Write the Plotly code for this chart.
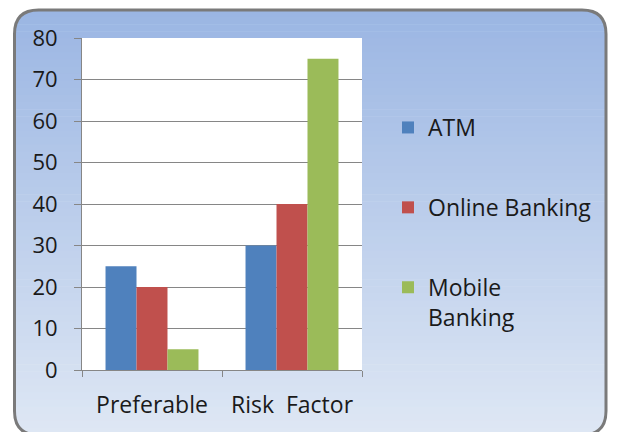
import plotly.graph_objects as go

categories = ["Preferable", "Risk  Factor"]
series_names = ["ATM", "Online Banking", "Mobile<br>Banking"]
atm = [25, 30]
online = [20, 40]
mobile = [5, 75]
colors = ["#4F81BD", "#C0504D", "#9BBB59"]
y_ticks = [0, 10, 20, 30, 40, 50, 60, 70, 80]

# page offset from default body margin
OX, OY = 8, 8
W, H = 617 - OX, 432 - OY
L, R, T, B = 82 - OX, 362 - OX, 38 - OY, 370 - OY


def px(x):
    return (x - OX - L) / (R - L)


def py(y):
    return (B - (y - OY)) / (B - T)


fig = go.Figure()
for name, vals, col in zip(series_names, [atm, online, mobile], colors):
    fig.add_trace(go.Bar(x=categories, y=vals, name=name, marker_color=col,
                         marker_line_width=0, legendgroup=name))

shapes = []
# gradient background bands (page pixel coords)
x0, x1, y0, y1 = 14.5, 606, 10, 435
top_c = (155, 182, 227)
bot_c = (222, 231, 244)
n = 60
for i in range(n):
    t = i / (n - 1)
    c = tuple(int(round(top_c[k] + (bot_c[k] - top_c[k]) * t)) for k in range(3))
    ya = y0 + (y1 - y0) * i / n
    yb = y0 + (y1 - y0) * (i + 1) / n + 0.6
    shapes.append(dict(type="rect", xref="paper", yref="paper", layer="below",
                       x0=px(x0), x1=px(x1), y0=py(ya), y1=py(yb),
                       fillcolor="rgb(%d,%d,%d)" % c, line_width=0))

r = 24


def P(x, y):
    return "%f,%f" % (px(x), py(y))


masks = [
    "M %s L %s Q %s %s Z" % (P(x0 - 2, y0 - 2), P(x0 + r, y0 - 2), P(x0, y0), P(x0 - 2, y0 + r)),
    "M %s L %s Q %s %s Z" % (P(x1 + 2, y0 - 2), P(x1 - r, y0 - 2), P(x1, y0), P(x1 + 2, y0 + r)),
    "M %s L %s Q %s %s Z" % (P(x0 - 2, y1 + 2), P(x0 + r, y1 + 2), P(x0, y1), P(x0 - 2, y1 - r)),
    "M %s L %s Q %s %s Z" % (P(x1 + 2, y1 + 2), P(x1 - r, y1 + 2), P(x1, y1), P(x1 + 2, y1 - r)),
]
for m in masks:
    shapes.append(dict(type="path", xref="paper", yref="paper", layer="below",
                       path=m, fillcolor="white", line_width=0))
# white plot area
shapes.append(dict(type="rect", xref="paper", yref="paper", layer="below",
                   x0=0, x1=1, y0=0, y1=1, fillcolor="white", line_width=0))
# rounded frame border
border = ("M %s L %s Q %s %s L %s Q %s %s L %s Q %s %s L %s Q %s %s Z" % (
    P(x0 + r, y0), P(x1 - r, y0), P(x1, y0), P(x1, y0 + r),
    P(x1, y1 - r), P(x1, y1), P(x1 - r, y1),
    P(x0 + r, y1), P(x0, y1), P(x0, y1 - r),
    P(x0, y0 + r), P(x0, y0), P(x0 + r, y0)))
shapes.append(dict(type="path", xref="paper", yref="paper", layer="above",
                   path=border, line=dict(color="#7A7A7A", width=3)))

font_family = "Open Sans, Lato, sans-serif"
fig.update_layout(
    width=W, height=H,
    margin=dict(l=L, r=W - R, t=T, b=H - B, pad=0, autoexpand=False),
    paper_bgcolor="white", plot_bgcolor="white",
    barmode="group", bargap=0.336, bargroupgap=0,
    font=dict(family=font_family, size=22, color="#1a1a1a"),
    shapes=shapes,
    legend=dict(x=px(388), y=py(106), xanchor="left", yanchor="top",
                traceorder="grouped", tracegroupgap=47, valign="top",
                itemwidth=30,
                bgcolor="rgba(0,0,0,0)", font=dict(size=23)),
    xaxis=dict(showline=True, linecolor="#868686", linewidth=1,
               ticks="outside", tickson="boundaries", ticklen=6,
               tickcolor="#868686", showgrid=False, automargin=False,
               tickfont=dict(size=23),
               ticklabelstandoff=14),
    yaxis=dict(range=[0, 80], tickvals=y_ticks, showline=True,
               linecolor="#868686", linewidth=1, ticks="outside",
               ticklen=7, tickcolor="#868686", showgrid=True,
               gridcolor="#868686", gridwidth=1, zeroline=False,
               automargin=False, ticklabelstandoff=12),
)

fig.write_html("out.html")
